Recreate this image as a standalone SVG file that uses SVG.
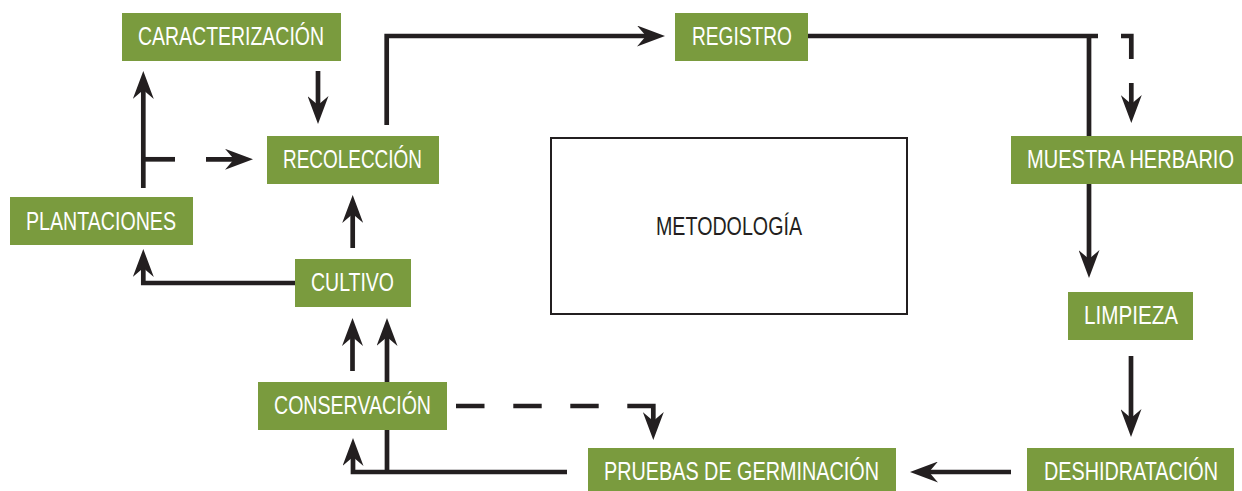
<svg xmlns="http://www.w3.org/2000/svg" width="1242" height="491" viewBox="0 0 1242 491">
<style>
.box{fill:#7a9b3e}
.lbl{font-family:"Liberation Sans Narrow","Liberation Sans",Arial,sans-serif;font-size:25px;fill:#ffffff;text-anchor:middle}
.sm{font-size:20px}
.ln{fill:none;stroke:#231f20;stroke-width:4.7;stroke-linejoin:miter}
.arr{marker-end:url(#ah)}
</style>
<defs>
<marker id="ah" markerUnits="userSpaceOnUse" markerWidth="28" markerHeight="21" viewBox="0 0 28 21" refX="16" refY="10.5" orient="auto">
<path d="M0,0 L28,10.5 L0,21 L9,10.5 Z" fill="#231f20"/>
</marker>
</defs>
<rect width="1242" height="491" fill="#ffffff"/>
<g id="connectors">
<path class="ln arr" d="M318,71 V112"/>
<path class="ln arr" d="M143.3,188 V83"/>
<path class="ln" d="M143.3,159.3 H175"/>
<path class="ln arr" d="M206,159.3 H241"/>
<path class="ln arr" d="M386.7,125 V36 H653"/>
<path class="ln" d="M808,36 H1098"/>
<path class="ln arr" d="M1089,34 V266"/>
<path class="ln" d="M1121,36 H1131.3 V59"/>
<path class="ln arr" d="M1131.3,83 V111"/>
<path class="ln arr" d="M1131,356 V425"/>
<path class="ln arr" d="M1011,472 H922"/>
<path class="ln arr" d="M567,472 H353 V450"/>
<path class="ln arr" d="M387,472 V330"/>
<path class="ln arr" d="M352.5,371 V330"/>
<path class="ln arr" d="M352.7,248 V207"/>
<path class="ln arr" d="M295,283 H143.3 V261"/>
<path class="ln" d="M456,406 H484.5 M513.3,406 H541.7 M570.3,406 H598.7"/>
<path class="ln arr" d="M627.3,406 H653.3 V428"/>
</g>
<g id="n-caracterizacion"><rect class="box" x="122" y="13" width="219" height="48"/><text class="lbl" x="231" y="45" textLength="186" lengthAdjust="spacingAndGlyphs">CARACTERIZACIÓN</text></g>
<g id="n-recoleccion"><rect class="box" x="267" y="136" width="172" height="48"/><text class="lbl" x="352.5" y="168" textLength="139" lengthAdjust="spacingAndGlyphs">RECOLECCIÓN</text></g>
<g id="n-plantaciones"><rect class="box" x="10" y="197" width="183" height="48"/><text class="lbl" x="101" y="229.5" textLength="150" lengthAdjust="spacingAndGlyphs">PLANTACIONES</text></g>
<g id="n-cultivo"><rect class="box" x="295" y="259" width="116" height="48"/><text class="lbl" x="352.5" y="291" textLength="83" lengthAdjust="spacingAndGlyphs">CULTIVO</text></g>
<g id="n-conservacion"><rect class="box" x="258" y="382" width="189" height="48"/><text class="lbl" x="352.5" y="413.5" textLength="157" lengthAdjust="spacingAndGlyphs">CONSERVACIÓN</text></g>
<g id="n-registro"><rect class="box" x="675" y="13" width="133" height="48"/><text class="lbl" x="742" y="45" textLength="100" lengthAdjust="spacingAndGlyphs">REGISTRO</text></g>
<g id="n-muestra"><rect class="box" x="1011" y="136" width="231" height="48"/><text class="lbl sm" transform="translate(1130.5,168) scale(1,1.25)" x="0" y="0" textLength="207" lengthAdjust="spacingAndGlyphs">MUESTRA HERBARIO</text></g>
<g id="n-limpieza"><rect class="box" x="1068" y="292" width="125" height="48"/><text class="lbl" x="1131" y="324" textLength="94" lengthAdjust="spacingAndGlyphs">LIMPIEZA</text></g>
<g id="n-deshidratacion"><rect class="box" x="1027" y="448" width="207" height="43"/><text class="lbl sm" transform="translate(1131,480) scale(1,1.25)" x="0" y="0" textLength="174" lengthAdjust="spacingAndGlyphs">DESHIDRATACIÓN</text></g>
<g id="n-pruebas"><rect class="box" x="588" y="448" width="308" height="43"/><text class="lbl" x="741.5" y="480" textLength="275" lengthAdjust="spacingAndGlyphs">PRUEBAS DE GERMINACIÓN</text></g>
<g id="n-metodologia"><rect x="551" y="138" width="356" height="176" fill="#ffffff" stroke="#231f20" stroke-width="2"/><text class="lbl" x="729" y="235" textLength="146" lengthAdjust="spacingAndGlyphs" style="fill:#231f20">METODOLOGÍA</text></g>
</svg>
